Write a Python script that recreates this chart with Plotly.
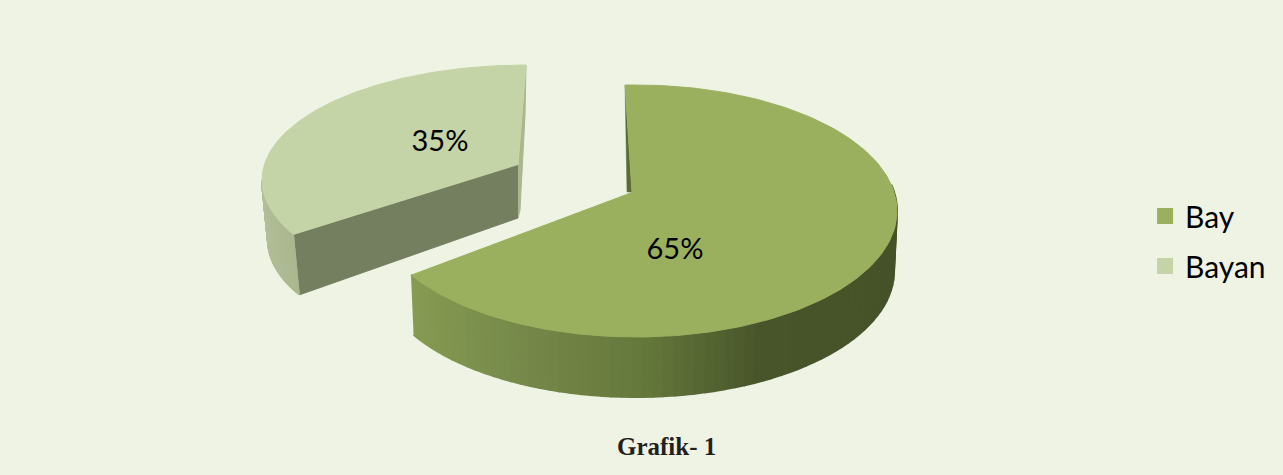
import numpy as np
import plotly.graph_objects as go

categories = ["Bay", "Bayan"]
values = [65, 35]
title_text = "Grafik- 1"

BG = "#EEF3E4"
TOP = {"Bay": "#9BB05E", "Bayan": "#C5D4A6"}
total = sum(values)


def mix(c1, c2, f):
    a = [int(c1[i:i + 2], 16) for i in (1, 3, 5)]
    b = [int(c2[i:i + 2], 16) for i in (1, 3, 5)]
    return "#%02x%02x%02x" % tuple(round(a[k] + (b[k] - a[k]) * f) for k in range(3))


def ramp(x, stops):
    xs = [s[0] for s in stops]
    if x <= xs[0]:
        return stops[0][1]
    for (x0, c0), (x1, c1) in zip(stops, stops[1:]):
        if x <= x1:
            return mix(c0, c1, (x - x0) / (x1 - x0))
    return stops[-1][1]


def arc(c, a, b, t):
    return c[0] + a * np.cos(t), c[1] - b * np.sin(t)


fig = go.Figure()


def poly(xs, ys, color, width=1.0):
    fig.add_trace(go.Scatter(
        x=list(xs), y=list(ys), mode="lines", fill="toself", fillcolor=color,
        line=dict(color=color, width=width), hoverinfo="skip", showlegend=False))


# geometry of each slice, in the picture's projection
geom = {
    "Bay": dict(c=(636, 211), a=261, b=126, lc=(636, 271), la=258, lb=126,
                start=92.4, sign=-1, stretch=1.034, apex=(632, 192),
                side_to=12,
                stops=[(410, "#869B52"), (520, "#76894A"), (640, "#66793C"),
                       (760, "#48552A"), (900, "#465229")]),
    "Bayan": dict(c=(526, 180), a=264, b=115, lc=(530, 240), la=262, lb=115,
                  start=90, sign=1, stretch=0.94, apex=(518, 165),
                  side_to=180,
                  stops=[(260, "#B2BE98"), (300, "#A9B68D")]),
}

# Bayan slice first (it sits behind)
for name in ["Bayan", "Bay"]:
    g = geom[name]
    share = values[categories.index(name)] / total
    t0 = np.radians(g["start"])
    t1 = t0 + g["sign"] * np.radians(360 * share * g["stretch"])
    apex = g["apex"]
    # cut faces
    sx, sy = arc(g["c"], g["a"], g["b"], t0)
    ex, ey = arc(g["c"], g["a"], g["b"], t1)
    lex, ley = arc(g["lc"], g["la"], g["lb"], t1)
    if name == "Bayan":
        poly([sx, sx - 1, 520, 518, apex[0]], [sy, 115, 210, 218, apex[1]], "#A9B68E")
        poly([apex[0], ex, lex, apex[0]], [apex[1], ey, ley, apex[1] + 53], "#747F60")
    else:
        poly([sx, apex[0] - 5, apex[0]], [sy, apex[1], apex[1]], "#5A6C33", width=0.5)
    # outer rim
    side_end = np.radians(g["side_to"])
    n = 70
    ts = np.linspace(t1, side_end, n)
    for i in range(n - 1):
        x0, y0 = arc(g["c"], g["a"], g["b"], ts[i])
        x1, y1 = arc(g["c"], g["a"], g["b"], ts[i + 1])
        x2, y2 = arc(g["lc"], g["la"], g["lb"], ts[i + 1])
        x3, y3 = arc(g["lc"], g["la"], g["lb"], ts[i])
        poly([x0, x1, x2, x3], [y0, y1, y2, y3], ramp((x0 + x1) / 2, g["stops"]), width=2)
    # top face
    tt = np.linspace(t0, t1, 200)
    ax, ay = arc(g["c"], g["a"], g["b"], tt)
    poly([apex[0], *ax], [apex[1], *ay], TOP[name])

# percentage labels
label_pos = {"Bay": (675, 252), "Bayan": (440, 144)}
for name, v in zip(categories, values):
    fig.add_trace(go.Scatter(
        x=[label_pos[name][0]], y=[label_pos[name][1]], mode="text",
        text=[f"{v}%"], textposition="middle center",
        textfont=dict(family="Lato, Carlito, sans-serif", size=29, color="#000000"),
        hoverinfo="skip", showlegend=False))

# legend entries
for name in categories:
    fig.add_trace(go.Scatter(
        x=[None], y=[None], mode="markers", name=name, legendgroup=name,
        marker=dict(symbol="square", size=19, color=TOP[name])))

fig.update_layout(
    width=1283, height=475, margin=dict(l=0, r=0, t=0, b=0),
    paper_bgcolor=BG, plot_bgcolor=BG,
    xaxis=dict(range=[0, 1283], visible=False, fixedrange=True),
    yaxis=dict(range=[475, 0], visible=False, fixedrange=True),
    legend=dict(x=0.8925, y=0.6, xanchor="left", yanchor="top",
                bgcolor="rgba(0,0,0,0)", itemwidth=30, tracegroupgap=8,
                font=dict(family="Lato, Carlito, sans-serif", size=30, color="#000000")),
    annotations=[dict(x=666, y=446, xref="x", yref="y", text=f"<b>{title_text}</b>",
                      showarrow=False,
                      font=dict(family="Liberation Serif, serif", size=25, color="#231F20"))],
)
fig.write_html(
    "out.html",
    config={"displayModeBar": False},
    post_script=(
        "document.body.style.margin='0';"
        "document.body.style.overflow='hidden';"
        f"document.body.style.background='{BG}';"
    ),
)
